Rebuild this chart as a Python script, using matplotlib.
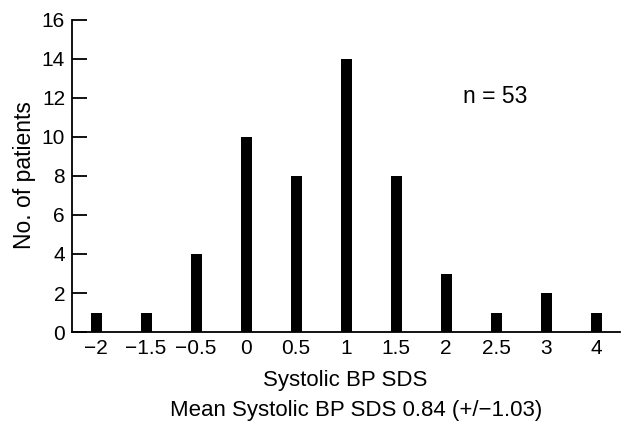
import matplotlib
matplotlib.use("Agg")
import matplotlib.pyplot as plt

categories = ["\u22122", "\u22121.5", "\u22120.5", "0", "0.5", "1", "1.5", "2", "2.5", "3", "4"]
counts = [1, 1, 4, 10, 8, 14, 8, 3, 1, 2, 1]
yticks = [0, 2, 4, 6, 8, 10, 12, 14, 16]

plt.rcParams['font.family'] = ['Liberation Sans', 'DejaVu Sans']

fig = plt.figure(figsize=(6.22, 4.21), dpi=100)
ax = fig.add_axes([0.1158, 0.2114, 0.881, 0.7411])

pos = list(range(len(categories)))
ax.bar(pos, counts, width=0.22, color='black')
ax.set_xlim(-0.48, 10.48)
ax.set_ylim(0, 16)
ax.set_xticks(pos)
ax.set_xticklabels(categories, fontsize=15)
ax.set_yticks(yticks)
ax.set_yticklabels([str(t) for t in yticks], fontsize=15)
ax.tick_params(axis='x', length=0, pad=5)
ax.tick_params(axis='y', direction='in', length=11, width=1.3, pad=5)
for s in ['top', 'right']:
    ax.spines[s].set_visible(False)
for s in ['left', 'bottom']:
    ax.spines[s].set_linewidth(1.3)

fig.text(0.039, 0.585, "No. of patients", fontsize=16.5, rotation=90, ha='center', va='center')
fig.text(0.555, 0.097, "Systolic BP SDS", fontsize=16, ha='center', va='center')
fig.text(0.572, 0.024, "Mean Systolic BP SDS 0.84 (+/\u22121.03)", fontsize=16, ha='center', va='center')
fig.text(0.796, 0.770, "n = 53", fontsize=16.5, ha='center', va='center')

fig.savefig("out.png", dpi=100)
